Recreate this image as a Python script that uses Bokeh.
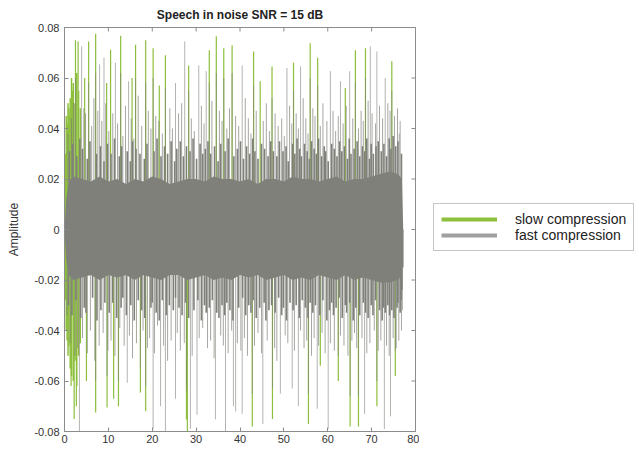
import math
from bokeh.plotting import figure
from bokeh.layouts import row
from bokeh.models import Range1d, FixedTicker, Legend, LegendItem
from bokeh.embed import file_html
from bokeh.resources import INLINE

title_text = "Speech in noise SNR = 15 dB"
y_label = "Amplitude"
series_names = ["slow compression", "fast compression"]
x_ticks = [0, 10, 20, 30, 40, 50, 60, 70, 80]
y_ticks = [-0.08, -0.06, -0.04, -0.02, 0, 0.02, 0.04, 0.06, 0.08]
y_tick_labels = ["-0.08", "-0.06", "-0.04", "-0.02", "0", "0.02", "0.04", "0.06", "0.08"]
x_lim = (0, 80)
y_lim = (-0.08, 0.08)

# dense core envelope of the fast-compression waveform
core_x = [0, 0.4, 1.0, 2, 4, 6, 8, 10, 12, 14, 16, 18, 20, 22, 24, 26, 28, 30, 32, 34, 36, 38, 40,
          42, 44, 46, 48, 50, 52, 54, 56, 58, 60, 62, 64, 66, 68, 70, 72, 74, 76, 76.9, 77.2]
fast_core_hi = [0.0, 0.012, 0.019, 0.021, 0.02, 0.019, 0.021, 0.019, 0.02, 0.018, 0.02, 0.019, 0.021,
                0.02, 0.018, 0.019, 0.02, 0.02, 0.019, 0.021, 0.02, 0.02, 0.019, 0.02, 0.018, 0.02,
                0.02, 0.019, 0.021, 0.02, 0.02, 0.019, 0.02, 0.021, 0.019, 0.02, 0.02, 0.021,
                0.022, 0.023, 0.022, 0.02, 0.0]
fast_core_lo = [0.0, -0.012, -0.018, -0.02, -0.019, -0.018, -0.02, -0.018, -0.019, -0.018, -0.02, -0.018,
                -0.019, -0.02, -0.018, -0.018, -0.02, -0.019, -0.018, -0.02, -0.019, -0.02, -0.018,
                -0.019, -0.018, -0.02, -0.019, -0.018, -0.02, -0.019, -0.02, -0.018, -0.019, -0.02,
                -0.018, -0.02, -0.019, -0.02, -0.021, -0.021, -0.02, -0.018, 0.0]

# slow-compression onset strands (visible at the start)
slow_start_x = [0.2, 0.4, 0.6, 0.8, 1.0, 1.3, 1.6, 2.0, 2.4, 2.8, 3.2, 3.6]
slow_start_up = [0.03, 0.045, 0.042, 0.05, 0.048, 0.052, 0.06, 0.058, 0.05, 0.062, 0.055, 0.048]
slow_start_dn = [-0.028, -0.04, -0.044, -0.05, -0.046, -0.055, -0.058, -0.06, -0.052, -0.062, -0.05, -0.045]

# medium peaks of the fast waveform
mid_up_x = [0.8, 1.6, 2.1, 4.4, 4.8, 6.2, 6.7, 7.6, 8.5, 9.4, 10.1, 11.0, 12.1, 13.3, 13.9, 15.2, 15.8,
            16.8, 17.6, 19.1, 19.7, 20.8, 21.5, 22.3, 24.0, 24.6, 26.0, 26.7, 28.9, 29.6, 31.2, 31.8,
            33.6, 35.3, 35.9, 37.0, 37.6, 39.0, 39.7, 41.2, 41.9, 42.5, 43.7, 45.3, 46.0, 46.7, 48.0,
            48.7, 49.5, 50.1, 51.3, 51.8, 52.8, 53.3, 54.4, 55.0, 55.5, 56.6, 57.1, 58.3, 58.9, 59.8,
            61.2, 61.8, 62.4, 63.5, 64.2, 65.7, 67.0, 67.6, 68.1, 69.2, 70.1, 70.9, 71.8, 72.5, 73.7,
            74.2, 75.2, 75.9, 76.5]
mid_up_y = [0.038, 0.044, 0.05, 0.048, 0.046, 0.041, 0.052, 0.047, 0.043, 0.05, 0.039, 0.046, 0.042,
            0.037, 0.049, 0.044, 0.036, 0.053, 0.041, 0.047, 0.04, 0.045, 0.043, 0.038, 0.048, 0.04,
            0.046, 0.05, 0.044, 0.039, 0.049, 0.042, 0.051, 0.047, 0.043, 0.04, 0.048, 0.045, 0.041,
            0.052, 0.044, 0.038, 0.047, 0.043, 0.05, 0.039, 0.046, 0.041, 0.044, 0.037, 0.049, 0.042,
            0.046, 0.04, 0.052, 0.044, 0.038, 0.048, 0.045, 0.041, 0.05, 0.043, 0.047, 0.039, 0.045,
            0.042, 0.049, 0.044, 0.04, 0.047, 0.043, 0.051, 0.046, 0.042, 0.049, 0.044, 0.05, 0.047,
            0.045, 0.048, 0.043]
mid_dn_x = [0.6, 1.3, 2.4, 3.0, 4.1, 5.2, 5.9, 6.9, 7.9, 8.8, 9.9, 10.6, 11.5, 12.6, 13.6, 14.8, 15.5,
            16.4, 17.9, 18.9, 19.4, 20.5, 21.2, 22.6, 23.5, 24.3, 25.7, 26.4, 27.3, 29.1, 30.7, 31.5,
            32.6, 33.3, 34.1, 35.6, 36.2, 37.3, 38.1, 39.4, 40.2, 41.0, 41.7, 43.3, 44.1, 44.9, 46.2,
            47.9, 48.4, 50.3, 50.9, 52.4, 53.8, 54.6, 55.2, 56.3, 56.9, 57.9, 58.7, 59.4, 60.6, 61.5,
            62.9, 63.7, 64.6, 65.5, 66.1, 66.6, 67.8, 68.9, 69.6, 70.6, 71.5, 72.1, 73.4, 74.0, 74.9,
            75.6, 76.2, 76.8, 77.0]
mid_dn_y = [-0.034, -0.045, -0.05, -0.047, -0.043, -0.049, -0.04, -0.052, -0.046, -0.041, -0.048,
            -0.044, -0.05, -0.039, -0.046, -0.042, -0.051, -0.045, -0.04, -0.047, -0.043, -0.049,
            -0.038, -0.046, -0.052, -0.044, -0.041, -0.048, -0.045, -0.05, -0.043, -0.039, -0.047,
            -0.044, -0.051, -0.042, -0.046, -0.049, -0.04, -0.045, -0.048, -0.043, -0.05, -0.046,
            -0.041, -0.049, -0.044, -0.047, -0.052, -0.042, -0.045, -0.048, -0.04, -0.047, -0.044,
            -0.05, -0.043, -0.046, -0.041, -0.049, -0.045, -0.048, -0.042, -0.046, -0.05, -0.044,
            -0.041, -0.047, -0.043, -0.049, -0.045, -0.04, -0.048, -0.044, -0.046, -0.05, -0.043,
            -0.047, -0.044, -0.04, -0.032]

# small peaks just beyond the dense core
low_up_x = [1.1, 1.9, 2.8, 3.5, 4.1, 5.2, 5.8, 7.3, 8.2, 9.0,
            9.8, 10.6, 11.4, 12.5, 13.0, 14.3, 15.0, 15.5, 16.3, 17.2,
            18.2, 18.8, 20.4, 21.1, 22.0, 22.8, 23.5, 24.3, 25.1, 25.6,
            26.4, 27.1, 27.8, 28.6, 29.3, 30.1, 30.9, 31.5, 32.1, 32.7,
            33.3, 34.2, 35.0, 35.6, 36.6, 37.3, 38.6, 39.4, 40.1, 40.8,
            41.5, 42.2, 42.9, 43.4, 44.1, 44.9, 45.6, 46.4, 47.0, 47.6,
            48.4, 49.0, 49.8, 50.5, 51.0, 52.0, 52.5, 53.0, 53.6, 54.0,
            54.7, 55.3, 55.8, 56.3, 56.9, 57.4, 57.9, 58.6, 59.2, 59.5,
            60.1, 60.9, 61.5, 62.1, 62.7, 63.2, 63.8, 64.5, 64.9, 65.3,
            66.0, 66.7, 67.3, 67.9, 68.4, 68.9, 69.5, 69.9, 70.4, 71.0,
            71.5, 72.2, 72.8, 73.4, 74.0, 74.4, 74.9, 75.5, 76.0, 76.8]
low_up_y = [0.031, 0.034, 0.029, 0.036, 0.032, 0.028, 0.035, 0.030, 0.033, 0.027,
            0.034, 0.030, 0.036, 0.029, 0.033, 0.031, 0.027, 0.035, 0.032, 0.030,
            0.028, 0.034, 0.031, 0.036, 0.029, 0.033, 0.030, 0.035, 0.027, 0.032,
            0.035, 0.029, 0.033, 0.031, 0.036, 0.028, 0.034, 0.030, 0.032, 0.035,
            0.030, 0.033, 0.027, 0.034, 0.031, 0.036, 0.029, 0.032, 0.035, 0.028,
            0.033, 0.030, 0.036, 0.031, 0.028, 0.034, 0.032, 0.029, 0.035, 0.031,
            0.029, 0.035, 0.031, 0.033, 0.027, 0.034, 0.030, 0.036, 0.032, 0.029,
            0.034, 0.031, 0.028, 0.035, 0.032, 0.030, 0.036, 0.029, 0.033, 0.031,
            0.027, 0.034, 0.032, 0.029, 0.035, 0.031, 0.033, 0.028, 0.036, 0.030,
            0.032, 0.035, 0.029, 0.033, 0.031, 0.036, 0.028, 0.034, 0.030, 0.033,
            0.035, 0.031, 0.034, 0.029, 0.036, 0.032, 0.037, 0.033, 0.035, 0.030]
low_dn_x = [0.9, 1.7, 2.6, 3.7, 4.5, 4.9, 6.4, 7.4, 8.3, 9.2,
            10.2, 11.0, 11.9, 12.9, 13.3, 14.1, 15.1, 15.9, 16.8, 17.6,
            18.3, 19.7, 20.0, 20.9, 21.6, 22.3, 23.2, 23.9, 24.8, 25.3,
            26.1, 26.8, 27.6, 28.3, 29.5, 30.4, 31.2, 31.9, 32.3, 33.0,
            33.7, 34.7, 35.2, 35.9, 36.5, 37.0, 37.7, 38.4, 39.7, 40.6,
            41.3, 42.0, 42.5, 43.0, 43.7, 44.5, 45.5, 45.9, 46.6, 47.2,
            48.0, 48.8, 49.5, 49.9, 50.6, 51.4, 52.1, 52.8, 53.5, 54.2,
            54.9, 55.5, 56.0, 56.6, 57.2, 58.2, 58.9, 59.8, 60.4, 60.9,
            61.3, 61.9, 62.6, 63.3, 64.0, 64.3, 65.0, 65.8, 66.4, 67.3,
            68.1, 68.6, 69.2, 69.9, 70.3, 70.9, 71.8, 72.4, 72.7, 73.1,
            73.7, 74.1, 74.6, 75.1, 75.8, 76.0, 76.5, 76.7, 76.9, 77.1]
low_dn_y = [-0.030, -0.034, -0.028, -0.035, -0.031, -0.033, -0.027, -0.036, -0.032, -0.029,
            -0.033, -0.029, -0.035, -0.031, -0.027, -0.034, -0.030, -0.036, -0.028, -0.032,
            -0.035, -0.031, -0.029, -0.033, -0.036, -0.028, -0.034, -0.030, -0.032, -0.027,
            -0.031, -0.034, -0.029, -0.035, -0.032, -0.028, -0.036, -0.030, -0.033, -0.031,
            -0.028, -0.033, -0.035, -0.030, -0.034, -0.029, -0.032, -0.036, -0.031, -0.027,
            -0.034, -0.030, -0.033, -0.028, -0.035, -0.031, -0.029, -0.036, -0.032, -0.030,
            -0.033, -0.027, -0.034, -0.031, -0.036, -0.029, -0.032, -0.030, -0.035, -0.028,
            -0.031, -0.035, -0.029, -0.033, -0.030, -0.034, -0.028, -0.036, -0.032, -0.029,
            -0.034, -0.031, -0.027, -0.035, -0.030, -0.033, -0.029, -0.036, -0.031, -0.034,
            -0.029, -0.033, -0.035, -0.030, -0.034, -0.028, -0.032, -0.036, -0.031, -0.033,
            -0.030, -0.034, -0.032, -0.035, -0.031, -0.029, -0.033, -0.028, -0.024, -0.015]

# tall peaks, fast compression
fast_pos_x = [2.5, 3.9, 5.5, 7.1, 8.0, 9.0, 11.6, 12.8, 14.6, 16.2, 18.5, 20.2, 23.0, 25.3, 27.4, 28.3,
              30.6, 32.3, 33.0, 34.6, 36.3, 38.2, 40.5, 43.1, 47.3, 50.7, 52.2, 53.8, 56.0, 57.7, 60.6,
              62.9, 65.0, 66.3, 68.6, 69.7, 71.2, 73.1, 74.6, 76.3]
fast_pos_y = [0.06, 0.0725, 0.058, 0.062, 0.0654, 0.068, 0.066, 0.062, 0.0587, 0.06, 0.058, 0.06, 0.056,
              0.058, 0.0745, 0.055, 0.065, 0.0627, 0.058, 0.062, 0.06, 0.062, 0.065, 0.057, 0.052, 0.064,
              0.055, 0.0646, 0.06, 0.057, 0.0627, 0.0587, 0.0627, 0.058, 0.06, 0.0725, 0.0705, 0.06,
              0.055, 0.038]
fast_neg_x = [3.4, 7.1, 9.7, 12.3, 14.3, 17.3, 18.5, 20.2, 21.9, 23.0, 25.3, 27.8, 28.7, 30.2, 34.4, 36.7,
              38.5, 39.0, 40.5, 42.8, 45.2, 47.4, 49.2, 51.9, 53.3, 55.6, 57.6, 60.1, 62.4, 65.1, 67.0,
              68.4, 71.2, 72.9, 74.3, 75.4]
fast_neg_y = [-0.085, -0.06, -0.058, -0.06, -0.0607, -0.055, -0.062, -0.079, -0.07, -0.085, -0.067,
              -0.064, -0.079, -0.0734, -0.0752, -0.085, -0.07, -0.072, -0.073, -0.065, -0.077, -0.063,
              -0.065, -0.063, -0.07, -0.065, -0.071, -0.079, -0.05, -0.066, -0.066, -0.073, -0.06,
              -0.079, -0.074, -0.048]

# tall peaks, slow compression
slow_pos_x = [1.2, 1.8, 2.5, 3.1, 4.6, 5.5, 7.1, 9.6, 10.5, 12.8, 15.4, 16.2, 18.5, 20.2, 21.6, 23.0,
              28.3, 33.0, 34.6, 36.3, 38.2, 43.1, 44.6, 47.3, 52.2, 56.0, 57.7, 64.0, 66.3, 68.6, 74.6]
slow_pos_y = [0.045, 0.055, 0.075, 0.0745, 0.06, 0.0745, 0.0775, 0.058, 0.0712, 0.0767, 0.06, 0.0732,
              0.075, 0.0718, 0.057, 0.069, 0.065, 0.071, 0.0765, 0.0718, 0.073, 0.0705, 0.0587, 0.0646,
              0.066, 0.0738, 0.068, 0.056, 0.071, 0.0718, 0.0666]
slow_neg_x = [1.5, 2.2, 2.7, 5.0, 7.1, 9.7, 11.2, 12.3, 17.3, 18.5, 27.8, 28.0, 42.8, 47.4, 55.6, 58.3,
              62.4, 65.1, 67.0, 71.2, 75.4]
slow_neg_y = [-0.062, -0.075, -0.07, -0.06, -0.0725, -0.0705, -0.067, -0.07, -0.0646, -0.072, -0.0752,
              -0.082, -0.078, -0.075, -0.077, -0.054, -0.06, -0.078, -0.078, -0.07, -0.058]

GREEN = "#8dbf3c"
GRAY = "#80807b"
LEG_GRAY = "#a0a0a0"
AXIS = "#8c8c8c"
FONT = "Liberation Sans"

p = figure(width=419, height=450, x_range=Range1d(*x_lim), y_range=Range1d(*y_lim),
           output_backend="svg", toolbar_location=None,
           min_border_left=64, min_border_right=4, min_border_top=25, min_border_bottom=19)
p.background_fill_color = "white"
p.border_fill_color = "white"
p.outline_line_color = AXIS
p.outline_line_width = 1
p.grid.visible = False

p.title.text = title_text
p.title.align = "center"
p.title.text_font = FONT
p.title.text_font_size = "12px"
p.title.text_font_style = "bold"
p.title.text_color = "#222222"
p.title.offset = 0
p.title.standoff = 11

for ax in (p.xaxis[0], p.yaxis[0]):
    ax.axis_line_color = AXIS
    ax.major_tick_line_color = AXIS
    ax.major_tick_in = 4
    ax.major_tick_out = 0
    ax.minor_tick_line_color = None
    ax.major_label_text_font = FONT
    ax.major_label_text_font_size = "11px"
    ax.major_label_text_color = "#333333"
    ax.axis_label_text_font = FONT
    ax.axis_label_text_font_style = "normal"
    ax.axis_label_text_font_size = "12px"
    ax.axis_label_text_color = "#333333"

p.xaxis.ticker = FixedTicker(ticks=x_ticks)
p.yaxis.ticker = FixedTicker(ticks=y_ticks)
p.yaxis.major_label_overrides = {t: s for t, s in zip(y_ticks, y_tick_labels)}
p.yaxis.axis_label = y_label
p.xaxis.major_label_standoff = 3
p.yaxis.major_label_standoff = 5
p.yaxis.axis_label_standoff = 10


def spikes(xs, ys, **kw):
    p.segment(x0=xs, y0=[0] * len(xs), x1=xs, y1=ys, **kw)


# slow compression (drawn first, underneath)
spikes(slow_start_x, slow_start_up, line_color=GREEN, line_width=1.5)
spikes(slow_start_x, slow_start_dn, line_color=GREEN, line_width=1.5)
spikes(slow_pos_x, slow_pos_y, line_color=GREEN, line_width=1.2)
spikes(slow_neg_x, slow_neg_y, line_color=GREEN, line_width=1.2)

# fast compression on top
spikes(fast_pos_x, fast_pos_y, line_color=GRAY, line_width=1, line_alpha=0.6)
spikes(fast_neg_x, fast_neg_y, line_color=GRAY, line_width=1, line_alpha=0.6)
spikes(mid_up_x, mid_up_y, line_color=GRAY, line_width=1, line_alpha=0.7)
spikes(mid_dn_x, mid_dn_y, line_color=GRAY, line_width=1, line_alpha=0.7)
spikes(low_up_x, low_up_y, line_color=GRAY, line_width=1.6)
spikes(low_dn_x, low_dn_y, line_color=GRAY, line_width=1.6)
p.varea(x=core_x, y1=fast_core_lo, y2=fast_core_hi, fill_color=GRAY)

# inward tick marks on the top and right edges of the box (MATLAB style)
p.scatter(x=x_ticks, y=[y_lim[1]] * len(x_ticks), marker="dash", size=8, angle=math.pi / 2,
          line_color=AXIS, line_width=1)
p.scatter(x=[x_lim[1]] * len(y_ticks), y=y_ticks, marker="dash", size=8,
          line_color=AXIS, line_width=1)

# legend panel to the right
lf = figure(width=220, height=450, x_range=Range1d(0, 1), y_range=Range1d(0, 1),
            output_backend="svg", toolbar_location=None,
            x_axis_location=None, y_axis_location=None,
            min_border_left=0, min_border_right=0, min_border_top=0, min_border_bottom=0)
lf.outline_line_color = None
lf.grid.visible = False
lf.background_fill_color = "white"
lf.border_fill_color = "white"
nan = float("nan")
leg_slow = lf.line(x=[nan], y=[nan], line_color=GREEN, line_width=4)
leg_fast = lf.line(x=[nan], y=[nan], line_color=LEG_GRAY, line_width=4)
legend = Legend(items=[LegendItem(label=series_names[0], renderers=[leg_slow]),
                       LegendItem(label=series_names[1], renderers=[leg_fast])],
                location=(14, 180), orientation="vertical")
legend.label_text_font = FONT
legend.label_text_font_size = "14px"
legend.label_text_color = "#222222"
legend.glyph_width = 56
legend.glyph_height = 12
legend.label_height = 12
legend.spacing = 0
legend.padding = 7
legend.label_standoff = 18
legend.border_line_color = AXIS
legend.background_fill_alpha = 1
legend.margin = 0
lf.add_layout(legend, "center")

open("out.html", "w").write(file_html(row(p, lf), INLINE))
